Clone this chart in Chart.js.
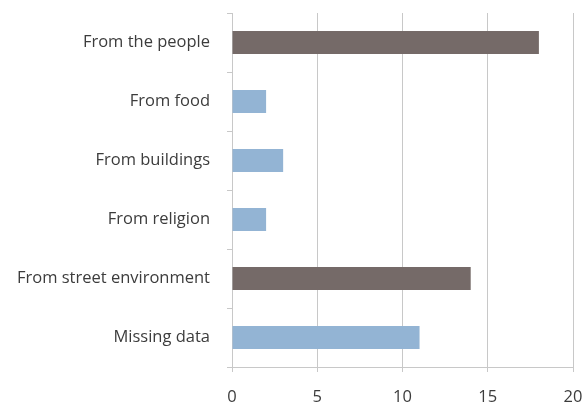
<!DOCTYPE html>
<html>
<head>
<meta charset="utf-8">
<script src="https://cdn.jsdelivr.net/npm/chart.js@4"></script>
<style>
  html, body { margin: 0; padding: 0; background: #fff; }
  #wrap { width: 587px; height: 409px; }
</style>
</head>
<body>
<div id="wrap"><canvas id="chart"></canvas></div>
<script>
const categories = ["From the people", "From food", "From buildings", "From religion", "From street environment", "Missing data"]
const values = [18, 2, 3, 2, 14, 11]
const barColors = ["#756a68", "#93b4d4", "#93b4d4", "#93b4d4", "#756a68", "#93b4d4"]
const xTicks = [0, 5, 10, 15, 20]

const fontFamily = "'Open Sans', 'Noto Sans', sans-serif"

new Chart(document.getElementById("chart"), {
  type: 'bar',
  data: {
    labels: categories,
    datasets: [{
      data: values,
      backgroundColor: barColors,
      borderWidth: 0,
      barPercentage: 0.78,
      categoryPercentage: 0.5
    }]
  },
  options: {
    indexAxis: 'y',
    responsive: true,
    maintainAspectRatio: false,
    animation: false,
    layout: { padding: { top: 13, right: 14, left: 0, bottom: 0 } },
    plugins: { legend: { display: false }, tooltip: { enabled: false } },
    scales: {
      x: {
        min: xTicks[0],
        max: xTicks[xTicks.length - 1],
        ticks: { stepSize: 5, color: '#3c3c3c', padding: 15, maxRotation: 0, font: { family: fontFamily, size: 16.5 } },
        grid: { color: '#c8c8c8', lineWidth: 1, tickLength: 5 },
        border: { color: '#c8c8c8' },
        afterFit: scale => {
          scale.height = 42
          scale.paddingLeft = 0
          scale.paddingRight = 0
        }
      },
      y: {
        ticks: { color: '#3c3c3c', padding: 17, font: { family: fontFamily, size: 16.5 } },
        grid: { drawOnChartArea: false, color: '#c8c8c8', tickLength: 5 },
        border: { color: '#c8c8c8' },
        afterFit: scale => {
          scale.width = 232
          scale.paddingTop = 0
          scale.paddingBottom = 0
        }
      }
    }
  }
})
</script>
</body>
</html>
